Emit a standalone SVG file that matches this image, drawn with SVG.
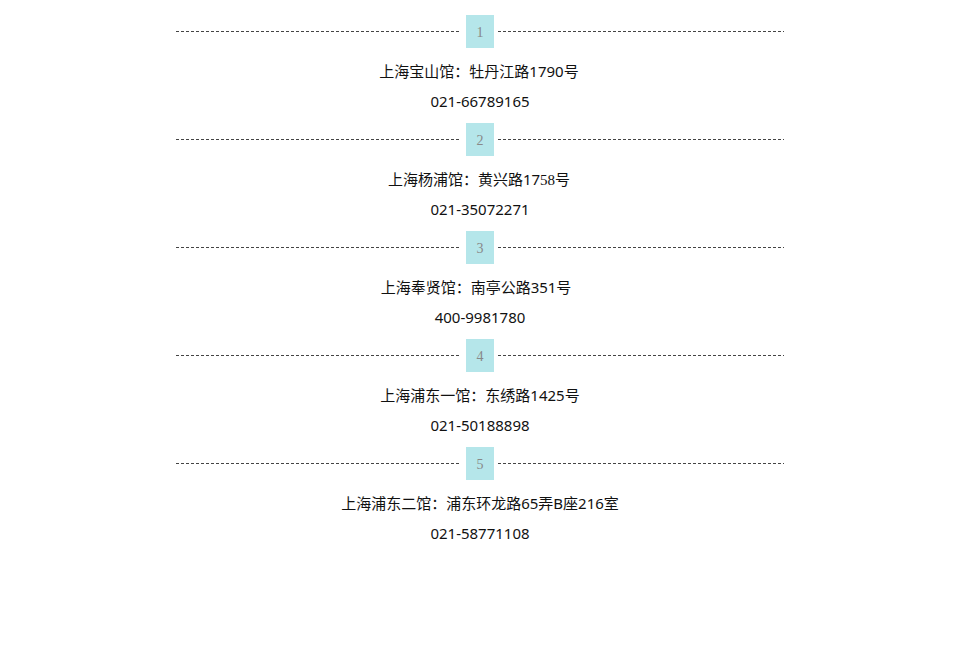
<svg xmlns="http://www.w3.org/2000/svg" width="960" height="655" viewBox="0 0 960 655">
<style>
.ln{stroke:#444;stroke-width:1;stroke-dasharray:3,2;fill:none}
.bx{fill:#b5e6ea}
.n{font-family:"Liberation Serif",serif;font-size:14px;fill:#888;text-anchor:middle}
.t{font-family:"Noto Sans","Noto Sans CJK SC",sans-serif;font-size:15px;fill:#111;text-anchor:middle}
.s{font-family:"Liberation Serif",serif}
</style>
<rect width="960" height="655" fill="#fff"/>
<g id="connectors">
<path class="ln" d="M176 31.5H460M498 31.5H784"/>
<path class="ln" d="M176 139.5H460M498 139.5H784"/>
<path class="ln" d="M176 247.5H460M498 247.5H784"/>
<path class="ln" d="M176 355.5H460M498 355.5H784"/>
<path class="ln" d="M176 463.5H460M498 463.5H784"/>
</g>
<g id="n1"><rect class="bx" x="466" y="15" width="28" height="33"/><text class="n" x="480" y="37">1</text>
<text class="t" x="479" y="77">上海宝山馆：牡丹江路1790号</text><text class="t" x="480" y="107">021-66789165</text></g>
<g id="n2"><rect class="bx" x="466" y="123" width="28" height="33"/><text class="n" x="480" y="145">2</text>
<text class="t" x="479" y="185">上海杨浦馆：黄兴路17<tspan class="s">58</tspan>号</text><text class="t" x="480" y="215">021-35072271</text></g>
<g id="n3"><rect class="bx" x="466" y="231" width="28" height="33"/><text class="n" x="480" y="253">3</text>
<text class="t" x="476" y="293">上海奉贤馆：南亭公路351号</text><text class="t" x="480" y="323">400-9981780</text></g>
<g id="n4"><rect class="bx" x="466" y="339" width="28" height="33"/><text class="n" x="480" y="361">4</text>
<text class="t" x="480" y="401">上海浦东一馆：东绣路1425号</text><text class="t" x="480" y="431">021-50188898</text></g>
<g id="n5"><rect class="bx" x="466" y="447" width="28" height="33"/><text class="n" x="480" y="469">5</text>
<text class="t" x="480" y="509">上海浦东二馆：浦东环龙路65弄B座216室</text><text class="t" x="480" y="539">021-58771108</text></g>
</svg>
